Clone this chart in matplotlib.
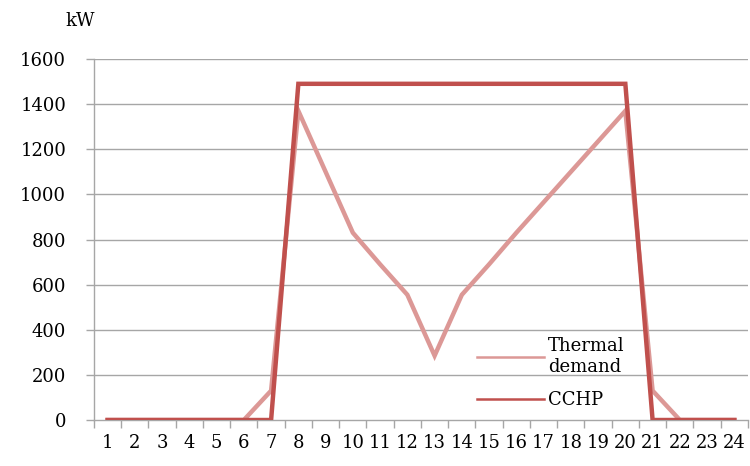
import matplotlib
matplotlib.use('Agg')
from matplotlib import pyplot as plt

plt.rcParams['font.family'] = ['DejaVu Serif']

hours = list(range(1, 25))
thermal = [0, 0, 0, 0, 0, 0, 130, 1370, 1100, 830, 690, 555, 285, 555, 690,
           830, 965, 1100, 1235, 1370, 130, 0, 0, 0]
cchp = [0, 0, 0, 0, 0, 0, 0, 1490, 1490, 1490, 1490, 1490, 1490, 1490, 1490,
        1490, 1490, 1490, 1490, 1490, 0, 0, 0, 0]
y_ticks = [0, 200, 400, 600, 800, 1000, 1200, 1400, 1600]

fig = plt.figure(figsize=(7.5, 4.66), dpi=100)
ax = fig.add_axes([0.1253, 0.0987, 0.872, 0.7747])

grid_col = '#a6a6a6'
for v in y_ticks[1:]:
    ax.axhline(v, color=grid_col, linewidth=1.0, zorder=1)

ax.plot(hours, thermal, color='#dc9896', linewidth=3.2, label='Thermal\ndemand',
        solid_joinstyle='miter', zorder=3)
ax.plot(hours, cchp, color='#c0504d', linewidth=3.2, label='CCHP',
        solid_joinstyle='miter', zorder=4)

ax.set_xlim(0.5, 24.5)
ax.set_ylim(0, 1600)
ax.set_xticks(hours)
ax.set_xticklabels([str(h) for h in hours])
ax.xaxis.set_minor_locator(plt.FixedLocator([h + 0.5 for h in range(0, 25)]))
ax.set_yticks(y_ticks)

for s in ['top', 'right']:
    ax.spines[s].set_visible(False)
for s in ['left', 'bottom']:
    ax.spines[s].set_color(grid_col)
    ax.spines[s].set_linewidth(1.0)

fs = 13
ax.tick_params(axis='x', which='major', length=0, pad=10, labelsize=fs)
ax.tick_params(axis='x', which='minor', length=6, color=grid_col, width=1.0)
ax.tick_params(axis='y', length=6, color=grid_col, width=1.0, pad=14, labelsize=fs)

fig.text(0.107, 0.955, 'kW', fontsize=fs, ha='center', va='center')

leg = ax.legend(loc='upper left', bbox_to_anchor=(0.575, 0.25), frameon=False,
                fontsize=fs, handlelength=3.7, handletextpad=0.2,
                labelspacing=0.85, borderaxespad=0)
for line in leg.get_lines():
    line.set_linewidth(1.8)

plt.savefig('out.png', dpi=100)
